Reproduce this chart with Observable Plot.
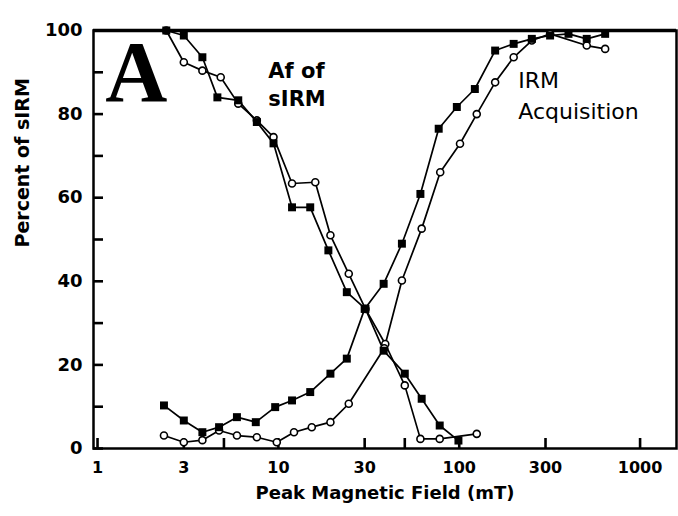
<!DOCTYPE html>
<html><head><meta charset="utf-8">
<script src="https://cdn.jsdelivr.net/npm/d3@7"></script>
<script src="https://cdn.jsdelivr.net/npm/@observablehq/plot@0.6"></script>
<style>body{margin:0;background:#fff}</style>
</head><body><div id="chart"></div>
<script>
// Peak magnetic field (mT) and percent of sIRM for each curve
const afFilledField = [2.4, 3.0, 3.8, 4.6, 6.0, 7.6, 9.4, 11.9, 15.0, 18.9, 23.9, 30.3, 38.2, 50, 62, 78, 99];
const afFilledPct   = [100, 98.8, 93.6, 84.0, 83.3, 78.1, 73.0, 57.7, 57.7, 47.4, 37.4, 33.4, 23.4, 17.9, 11.9, 5.5, 1.9];
const afOpenField   = [2.4, 3.0, 3.8, 4.8, 6.0, 7.6, 9.4, 11.9, 16.0, 19.4, 24.5, 30.3, 39, 50, 61, 78, 125];
const afOpenPct     = [100, 92.4, 90.4, 88.8, 82.5, 78.5, 74.5, 63.4, 63.7, 51.0, 41.8, 33.4, 25.0, 15.1, 2.3, 2.3, 3.5];
const irmFilledField = [2.33, 3.0, 3.8, 4.7, 5.9, 7.5, 9.6, 11.9, 15.0, 19.4, 23.9, 30.0, 38.2, 48.2, 61, 77, 97, 122, 158, 200, 252, 318, 402, 507, 641];
const irmFilledPct   = [10.3, 6.7, 3.9, 5.1, 7.5, 6.3, 9.9, 11.5, 13.5, 17.9, 21.5, 33.4, 39.4, 49.0, 60.9, 76.5, 81.7, 86.0, 95.2, 96.8, 98.0, 98.8, 99.2, 98.0, 99.2];
const irmOpenField = [2.33, 3.0, 3.8, 4.7, 5.9, 7.6, 9.8, 12.2, 15.3, 19.4, 24.5, 38.5, 48.2, 62, 78.5, 101, 125, 158, 200, 252, 318, 507, 641];
const irmOpenPct   = [3.1, 1.5, 2.0, 4.3, 3.1, 2.7, 1.5, 3.9, 5.1, 6.3, 10.7, 24.0, 40.2, 52.6, 66.1, 72.9, 80.0, 87.6, 93.6, 97.6, 99.2, 96.4, 95.6];

const xTickValues = [1, 3, 5, 10, 30, 50, 100, 300, 1000];
const yLabelValues = [0, 20, 40, 60, 80, 100];
const yTickValues = [0, 10, 20, 30, 40, 50, 60, 70, 80, 90, 100];

const xTitle = "Peak Magnetic Field (mT)";
const yTitle = "Percent of sIRM";
const panelLetter = ["A"];
const afLabel = [{text: "Af of", field: 8.8, pct: 90.2}, {text: "sIRM", field: 8.8, pct: 83.5}];
const irmLabel = [{text: "IRM", field: 212, pct: 88.0}, {text: "Acquisition", field: 212, pct: 80.6}];

const toRows = (fs, ps) => fs.map((f, i) => ({field: f, pct: ps[i]}));
const afFilled = toRows(afFilledField, afFilledPct);
const afOpen = toRows(afOpenField, afOpenPct);
const irmFilled = toRows(irmFilledField, irmFilledPct);
const irmOpen = toRows(irmOpenField, irmOpenPct);

const W = 678, H = 516, ML = 93, MR = 2, MT = 30, MB = 68;
const xDomain = [0.95, 1590], yDomain = [0, 100];

const lineOpts = {x: "field", y: "pct", stroke: "black", strokeWidth: 1.7};
const filledOpts = {x: "field", y: "pct", symbol: "square", r: 4.5, fill: "black"};
const openOpts = {x: "field", y: "pct", symbol: "circle", r: 3.5, fill: "white", stroke: "black", strokeWidth: 1.6};
const noLabel = () => "";

const chart = Plot.plot({
  width: W, height: H,
  marginLeft: ML, marginRight: MR, marginTop: MT, marginBottom: MB,
  style: {fontFamily: "'DejaVu Sans', sans-serif", fontWeight: "bold", background: "white", color: "black"},
  x: {type: "log", domain: xDomain},
  y: {domain: yDomain},
  marks: [
    Plot.frame({stroke: "black", strokeWidth: 2.5}),
    Plot.ruleY([yDomain[1]], {stroke: "black", strokeWidth: 3.5}),
    Plot.axisX({ticks: xTickValues, tickFormat: d => String(d), tickSize: 0, tickPadding: 13, fontSize: 16, label: null}),
    Plot.axisY({ticks: yLabelValues, tickSize: 0, tickPadding: 11, fontSize: 18, label: null}),
    Plot.axisX({ticks: xTickValues, tickFormat: noLabel, tickSize: -10, strokeWidth: 2.6, label: null, stroke: "black"}),
    Plot.axisY({ticks: yTickValues, tickFormat: noLabel, tickSize: -10, strokeWidth: 2.6, label: null, stroke: "black"}),
    Plot.text([xTitle], {frameAnchor: "bottom", dy: 50, fontSize: 18, ariaLabel: "xtitle"}),
    Plot.text([yTitle], {frameAnchor: "left", dx: -71, dy: 8, rotate: -90, fontSize: 19, ariaLabel: "ytitle"}),
    Plot.line(afFilled, lineOpts),
    Plot.line(afOpen, lineOpts),
    Plot.line(irmFilled, lineOpts),
    Plot.line(irmOpen, lineOpts),
    Plot.dot(afOpen, openOpts),
    Plot.dot(irmOpen, openOpts),
    Plot.dot(afFilled, filledOpts),
    Plot.dot(irmFilled, filledOpts),
    Plot.text(panelLetter, {x: () => 1.64, y: () => 89.8, fontSize: 86, fontFamily: "'Liberation Serif', serif", fontWeight: "bold"}),
    Plot.text(afLabel, {x: "field", y: "pct", text: "text", textAnchor: "start", fontSize: 21, ariaLabel: "aflabel"}),
    Plot.text(irmLabel, {x: "field", y: "pct", text: "text", textAnchor: "start", fontSize: 22, fontWeight: "normal", ariaLabel: "irmlabel"})
  ]
});
document.getElementById("chart").append(chart);
const svg = d3.select(chart);
svg.selectAll('[aria-label="xtitle"] text').style("letter-spacing", "1.7px");
svg.selectAll('[aria-label="ytitle"] text').style("letter-spacing", "1.5px");
svg.selectAll('[aria-label="aflabel"] text').style("letter-spacing", "0.8px");
svg.selectAll('[aria-label="irmlabel"] text').style("letter-spacing", "0.6px");
</script></body></html>
